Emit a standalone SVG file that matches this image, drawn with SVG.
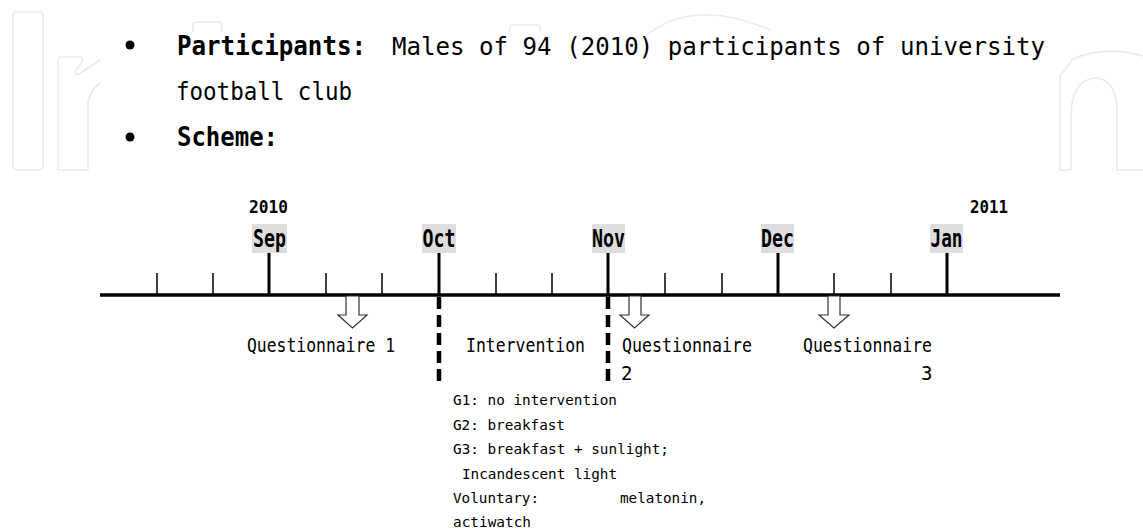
<svg xmlns="http://www.w3.org/2000/svg" width="1143" height="531" viewBox="0 0 1143 531">
<defs>
<style>
.t{font-family:"DejaVu Sans Mono","Liberation Mono",monospace;fill:#000}
.b{font-weight:bold}
.wm{fill:none;stroke:#ebebeb;stroke-width:1.6;stroke-linejoin:round}
.mbox{fill:#dedede}
.axis{stroke:#000;stroke-width:3.5;fill:none}
.maj{stroke:#000;stroke-width:3;fill:none}
.min{stroke:#000;stroke-width:1.5;fill:none}
.dash{stroke:#000;stroke-width:4.5;stroke-dasharray:12 6;fill:none}
.arr{fill:#fff;stroke:#333;stroke-width:1.2;stroke-linejoin:miter}
</style>
</defs>
<rect width="1143" height="531" fill="#fff"/>

<g id="watermark">
<rect class="wm" x="13" y="12" width="30" height="158" rx="4"/>
<path class="wm" d="M58,170 L58,61 Q58,57 62,57 L80,57 Q84,59 82,62 L76,70 Q74,75 79,74 L100,60"/>
<path class="wm" d="M88,170 L88,102 Q91,89 100,83 M58,170 L88,170"/>
<path class="wm" d="M193,32 L193,25 Q193,22 196,22 L219,22 Q222,22 222,25 L222,32"/>
<path class="wm" d="M510,32 L510,28 Q510,25 513,25 L537,25 Q540,25 540,28 L540,32"/>
<path class="wm" d="M641,40 Q690,-5 770,30"/>
<path class="wm" d="M1060,170 L1060,76 L1073,59 Q1105,45 1143,56"/>
<path class="wm" d="M1071,170 L1071,112 Q1073,80 1095,78 Q1116,79 1117,110 L1117,170 M1060,170 L1071,170 M1117,170 L1143,170"/>
</g>

<g id="header">
<circle cx="130" cy="45" r="4.5" fill="#000"/>
<text class="t b" x="177" y="55" font-size="27" textLength="189" lengthAdjust="spacingAndGlyphs">Participants:</text>
<text class="t" x="392" y="55" font-size="24" textLength="653" lengthAdjust="spacingAndGlyphs">Males of 94 (2010) participants of university</text>
<text class="t" x="176" y="100" font-size="24" textLength="176" lengthAdjust="spacingAndGlyphs">football club</text>
<circle cx="130" cy="137" r="4.5" fill="#000"/>
<text class="t b" x="177" y="146" font-size="27" textLength="101" lengthAdjust="spacingAndGlyphs">Scheme:</text>
</g>

<g id="connectors">
<line class="axis" x1="100" y1="295" x2="1060" y2="295"/>
<path class="maj" d="M269,253V295 M439,253V295 M608,253V295 M778,253V295 M947,253V295"/>
<path class="min" d="M157,273V295 M213,273V295 M326,273V295 M382,273V295 M496,273V295 M552,273V295 M665,273V295 M722,273V295 M834,273V295 M891,273V295"/>
<line class="dash" x1="439" y1="297" x2="439" y2="387"/>
<line class="dash" x1="608" y1="297" x2="608" y2="387"/>
<polygon class="arr" points="346,296 359,296 359,315 367,315 352.5,328 338,315 346,315"/>
<polygon class="arr" points="629,296 641,296 641,315 649,315 634.5,328 620,315 629,315"/>
<polygon class="arr" points="828,296 840,296 840,315 849,315 834,328 819,315 828,315"/>
</g>

<g id="year-2010"><text class="t b" x="249" y="213" font-size="18" textLength="39" lengthAdjust="spacingAndGlyphs">2010</text></g>
<g id="year-2011"><text class="t b" x="970" y="213" font-size="18" textLength="38" lengthAdjust="spacingAndGlyphs">2011</text></g>

<g id="month-sep"><rect class="mbox" x="252" y="224" width="35" height="29"/><text class="t b" x="253" y="247" font-size="24" textLength="33" lengthAdjust="spacingAndGlyphs">Sep</text></g>
<g id="month-oct"><rect class="mbox" x="422" y="224" width="34" height="29"/><text class="t b" x="422.5" y="247" font-size="24" textLength="33" lengthAdjust="spacingAndGlyphs">Oct</text></g>
<g id="month-nov"><rect class="mbox" x="592" y="224" width="33" height="29"/><text class="t b" x="592" y="247" font-size="24" textLength="33" lengthAdjust="spacingAndGlyphs">Nov</text></g>
<g id="month-dec"><rect class="mbox" x="761" y="224" width="33" height="29"/><text class="t b" x="761" y="247" font-size="24" textLength="33" lengthAdjust="spacingAndGlyphs">Dec</text></g>
<g id="month-jan"><rect class="mbox" x="930" y="224" width="33" height="29"/><text class="t b" x="930.5" y="247" font-size="24" textLength="32" lengthAdjust="spacingAndGlyphs">Jan</text></g>

<g id="questionnaire-1"><text class="t" x="247" y="352" font-size="19" textLength="148" lengthAdjust="spacingAndGlyphs">Questionnaire 1</text></g>
<g id="intervention"><text class="t" x="466" y="352" font-size="19" textLength="119" lengthAdjust="spacingAndGlyphs">Intervention</text></g>
<g id="questionnaire-2">
<text class="t" x="622" y="352" font-size="19" textLength="130" lengthAdjust="spacingAndGlyphs">Questionnaire</text>
<text class="t" x="621" y="380" font-size="19">2</text>
</g>
<g id="questionnaire-3">
<text class="t" x="803" y="352" font-size="19" textLength="129" lengthAdjust="spacingAndGlyphs">Questionnaire</text>
<text class="t" x="921" y="380" font-size="19">3</text>
</g>

<g id="intervention-details">
<text class="t" x="453" y="405" font-size="14.7" textLength="164" lengthAdjust="spacingAndGlyphs">G1: no intervention</text>
<text class="t" x="453" y="430" font-size="14.7" textLength="112" lengthAdjust="spacingAndGlyphs">G2: breakfast</text>
<text class="t" x="453" y="454" font-size="14.7" textLength="216" lengthAdjust="spacingAndGlyphs">G3: breakfast + sunlight;</text>
<text class="t" x="462" y="479" font-size="14.7" textLength="155" lengthAdjust="spacingAndGlyphs">Incandescent light</text>
<text class="t" y="503" font-size="14.7"><tspan x="453" textLength="86" lengthAdjust="spacingAndGlyphs">Voluntary:</tspan><tspan x="620" textLength="86" lengthAdjust="spacingAndGlyphs">melatonin,</tspan></text>
<text class="t" x="453" y="527" font-size="14.7" textLength="78" lengthAdjust="spacingAndGlyphs">actiwatch</text>
</g>
</svg>
